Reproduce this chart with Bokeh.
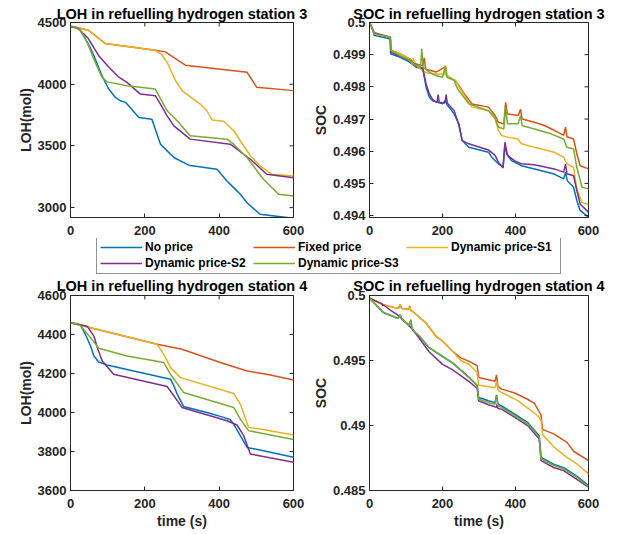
import math
from bokeh.plotting import figure
from bokeh.layouts import column, row
from bokeh.models import (Range1d, Legend, LegendItem, FixedTicker, CustomJSTickFormatter)
from bokeh.embed import file_html
from bokeh.resources import INLINE

# ---------------- data ----------------
series_names = ["No price", "Fixed price", "Dynamic price-S1", "Dynamic price-S2", "Dynamic price-S3"]
colors = ["#0072BD", "#D95319", "#EDB120", "#7E2F8E", "#77AC30"]

x_ticks = [0, 200, 400, 600]
loh3_ticks = [3000, 3500, 4000, 4500]
soc3_ticks = [0.494, 0.495, 0.496, 0.497, 0.498, 0.499, 0.5]
loh4_ticks = [3600, 3800, 4000, 4200, 4400, 4600]
soc4_ticks = [0.485, 0.49, 0.495, 0.5]

# LOH station 3
loh3_blue_t = [0, 12, 25, 40, 54, 66, 84, 102, 121, 134, 148, 184, 219, 242, 260, 278, 318, 394, 421, 439, 457, 475, 510, 600]
loh3_blue = [4467, 4465, 4440, 4370, 4290, 4208, 4073, 3965, 3893, 3866, 3853, 3731, 3717, 3514, 3460, 3406, 3344, 3311, 3216, 3162, 3108, 3040, 2946, 2913]
loh3_orange_t = [0, 14, 48, 71, 93, 228, 255, 309, 475, 501, 600]
loh3_orange = [4467, 4462, 4438, 4384, 4330, 4275, 4262, 4154, 4097, 3975, 3948]
loh3_yellow_t = [0, 14, 48, 71, 93, 228, 246, 264, 282, 300, 349, 367, 381, 412, 439, 484, 510, 542, 600]
loh3_yellow = [4467, 4462, 4438, 4384, 4330, 4275, 4240, 4154, 4032, 3948, 3839, 3785, 3710, 3700, 3623, 3420, 3338, 3270, 3257]
loh3_purple_t = [0, 21, 48, 75, 102, 129, 152, 188, 228, 242, 260, 278, 322, 430, 484, 528, 600]
loh3_purple = [4467, 4451, 4370, 4235, 4141, 4060, 4015, 3920, 3907, 3839, 3744, 3663, 3555, 3514, 3392, 3270, 3243]
loh3_green_t = [0, 12, 30, 48, 66, 84, 98, 152, 228, 260, 287, 322, 421, 439, 475, 519, 560, 600]
loh3_green = [4467, 4465, 4425, 4316, 4181, 4060, 4019, 3988, 3961, 3785, 3704, 3582, 3555, 3514, 3406, 3230, 3108, 3095]

# SOC station 3
soc3_blue_t = [0, 8, 13, 57, 58, 84, 110, 128, 146, 155, 164, 173, 200, 209, 212, 232, 245, 254, 272, 326, 335, 353, 366, 371, 376, 389, 416, 452, 506, 532, 537, 542, 559, 568, 577, 600]
soc3_blue = [0.5, 0.4998, 0.4996, 0.49949, 0.49903, 0.49892, 0.49877, 0.49861, 0.49856, 0.49799, 0.49768, 0.49757, 0.49747, 0.49760, 0.49745, 0.49716, 0.49685, 0.49633, 0.49612, 0.49597, 0.49581, 0.49561, 0.49552, 0.49618, 0.49592, 0.49571, 0.49555, 0.49545, 0.49529, 0.49514, 0.49535, 0.49508, 0.49488, 0.49447, 0.49416, 0.49395]
soc3_orange_t = [0, 8, 13, 57, 59, 84, 110, 128, 146, 150, 154, 182, 208, 211, 218, 236, 245, 263, 281, 326, 344, 353, 368, 373, 378, 407, 414, 418, 452, 479, 506, 532, 537, 541, 559, 568, 577, 600]
soc3_orange = [0.5, 0.4998, 0.49965, 0.49954, 0.49913, 0.49903, 0.49887, 0.49871, 0.49866, 0.4989, 0.49855, 0.49846, 0.49862, 0.49835, 0.4983, 0.49818, 0.49804, 0.49773, 0.49747, 0.49737, 0.49711, 0.4969, 0.49685, 0.49752, 0.49716, 0.49711, 0.4973, 0.497, 0.4969, 0.4968, 0.49665, 0.49649, 0.49675, 0.49645, 0.49638, 0.49592, 0.49555, 0.49545]
soc3_yellow_t = [0, 8, 13, 57, 59, 84, 110, 118, 120, 123, 146, 160, 182, 206, 208, 212, 236, 245, 263, 281, 326, 344, 353, 362, 380, 407, 416, 452, 506, 532, 541, 559, 568, 582, 600]
soc3_yellow = [0.5, 0.4998, 0.49965, 0.49954, 0.49913, 0.49903, 0.49885, 0.4987, 0.4989, 0.4987, 0.4985, 0.49842, 0.4984, 0.4984, 0.49865, 0.49835, 0.4982, 0.498, 0.49768, 0.49737, 0.49726, 0.497, 0.49665, 0.49649, 0.49643, 0.49638, 0.49623, 0.49612, 0.49597, 0.49581, 0.49561, 0.4955, 0.49483, 0.49441, 0.49434]
soc3_purple_t = [0, 8, 13, 57, 58, 84, 110, 128, 146, 155, 164, 173, 185, 188, 191, 207, 210, 213, 232, 245, 254, 272, 326, 344, 353, 366, 371, 378, 398, 416, 452, 506, 532, 537, 541, 559, 568, 577, 600]
soc3_purple = [0.5, 0.4998, 0.49968, 0.49954, 0.49908, 0.49895, 0.49882, 0.49866, 0.49858, 0.49809, 0.49778, 0.4976, 0.49752, 0.49776, 0.49752, 0.4975, 0.49776, 0.4975, 0.49726, 0.4968, 0.49633, 0.49623, 0.49604, 0.49587, 0.49566, 0.49548, 0.49628, 0.49587, 0.4957, 0.49561, 0.49558, 0.49545, 0.49535, 0.4956, 0.4953, 0.49524, 0.49478, 0.49436, 0.4941]
soc3_green_t = [0, 8, 13, 57, 59, 84, 110, 128, 140, 143, 147, 164, 182, 200, 208, 212, 232, 241, 272, 326, 344, 353, 368, 373, 378, 407, 414, 418, 452, 497, 532, 541, 559, 568, 582, 600]
soc3_green = [0.5, 0.4998, 0.49965, 0.49954, 0.49913, 0.49897, 0.49882, 0.49866, 0.49861, 0.49918, 0.49861, 0.49846, 0.49835, 0.4983, 0.49866, 0.4983, 0.4982, 0.49794, 0.49747, 0.49726, 0.49706, 0.49675, 0.49669, 0.49737, 0.49685, 0.49685, 0.49711, 0.4968, 0.49669, 0.49654, 0.49638, 0.49612, 0.49607, 0.4955, 0.49488, 0.49483]

# LOH station 4
loh4_blue_t = [0, 27, 40, 54, 63, 76, 98, 170, 269, 278, 287, 304, 367, 412, 430, 439, 475, 519, 600]
loh4_blue = [4460, 4448, 4401, 4341, 4290, 4259, 4244, 4213, 4171, 4137, 4094, 4031, 4000, 3975, 3963, 3941, 3821, 3804, 3770]
loh4_orange_t = [0, 233, 300, 403, 475, 528, 600]
loh4_orange = [4460, 4350, 4324, 4256, 4213, 4196, 4167]
loh4_yellow_t = [0, 233, 251, 269, 296, 439, 457, 479, 510, 600]
loh4_yellow = [4460, 4350, 4298, 4230, 4179, 4097, 4043, 3924, 3915, 3885]
loh4_purple_t = [0, 45, 63, 72, 85, 116, 260, 278, 300, 421, 448, 466, 484, 600]
loh4_purple = [4460, 4442, 4392, 4333, 4265, 4196, 4133, 4086, 4026, 3958, 3936, 3881, 3787, 3745]
loh4_green_t = [0, 22, 54, 76, 152, 251, 269, 304, 439, 457, 479, 600]
loh4_green = [4460, 4455, 4384, 4329, 4290, 4256, 4196, 4103, 4026, 3966, 3907, 3861]

# SOC station 4
soc4_blue_t = [0, 38, 75, 80, 84, 88, 110, 113, 116, 119, 137, 164, 200, 227, 272, 295, 299, 326, 344, 348, 352, 362, 398, 434, 465, 470, 506, 532, 568, 600]
soc4_blue = [0.4998, 0.49868, 0.49826, 0.49828, 0.4985, 0.49818, 0.49768, 0.4981, 0.49758, 0.4973, 0.49685, 0.49597, 0.4953, 0.49482, 0.49372, 0.4931, 0.49215, 0.4919, 0.49176, 0.49235, 0.49165, 0.4915, 0.49088, 0.49022, 0.4892, 0.48755, 0.487, 0.48675, 0.4861, 0.48537]
soc4_orange_t = [0, 38, 74, 80, 84, 88, 108, 110, 113, 119, 155, 182, 200, 227, 250, 272, 295, 299, 344, 348, 352, 362, 398, 434, 452, 466, 470, 474, 506, 541, 560, 600]
soc4_orange = [0.4998, 0.49929, 0.49903, 0.49905, 0.4993, 0.499, 0.49895, 0.4992, 0.49885, 0.49875, 0.49788, 0.49686, 0.4965, 0.49573, 0.4952, 0.49495, 0.4946, 0.4937, 0.4934, 0.4939, 0.493, 0.4928, 0.4925, 0.492, 0.4917, 0.491, 0.4908, 0.4897, 0.48934, 0.4887, 0.488, 0.4873]
soc4_yellow_t = [0, 38, 74, 80, 84, 88, 108, 110, 113, 119, 155, 182, 200, 227, 250, 272, 295, 299, 344, 348, 352, 362, 407, 461, 470, 474, 506, 541, 568, 600]
soc4_yellow = [0.4998, 0.49929, 0.49903, 0.49905, 0.4993, 0.499, 0.49895, 0.4992, 0.49885, 0.49875, 0.49788, 0.49686, 0.4965, 0.49573, 0.495, 0.49471, 0.49407, 0.4931, 0.4929, 0.4934, 0.4927, 0.49254, 0.4919, 0.49075, 0.4904, 0.4893, 0.48832, 0.48755, 0.48704, 0.48628]
soc4_purple_t = [0, 34, 36, 38, 56, 83, 119, 164, 200, 227, 272, 295, 299, 326, 348, 350, 352, 362, 398, 434, 465, 470, 506, 532, 568, 600]
soc4_purple = [0.4998, 0.49936, 0.4992, 0.49929, 0.4989, 0.49839, 0.49737, 0.49565, 0.4947, 0.4943, 0.4934, 0.49285, 0.4919, 0.4916, 0.4914, 0.4917, 0.4913, 0.49126, 0.49062, 0.48998, 0.48896, 0.4873, 0.48675, 0.48653, 0.48585, 0.48526]
soc4_green_t = [0, 38, 75, 80, 84, 88, 110, 113, 116, 119, 137, 164, 200, 227, 272, 295, 299, 326, 344, 348, 352, 362, 398, 434, 465, 470, 506, 532, 568, 600]
soc4_green = [0.4998, 0.49872, 0.49829, 0.4983, 0.49854, 0.4982, 0.4977, 0.49816, 0.4976, 0.49734, 0.49688, 0.49599, 0.49533, 0.49484, 0.49369, 0.49305, 0.49203, 0.49177, 0.49164, 0.49228, 0.49152, 0.49139, 0.49075, 0.49011, 0.48909, 0.48743, 0.48692, 0.48666, 0.48602, 0.48531]

# ---------------- styling ----------------
FONT = "Liberation Sans"
TXT = "#262626"
LW = 1.5


def style_axis(ax, ticks, fmt=None):
    ax.ticker = FixedTicker(ticks=ticks)
    ax.minor_tick_line_color = None
    ax.major_tick_in = 4
    ax.major_tick_out = 0
    ax.major_tick_line_color = TXT
    ax.axis_line_color = TXT
    ax.major_label_text_font = FONT
    ax.major_label_text_font_style = "bold"
    ax.major_label_text_font_size = "13px"
    ax.major_label_text_color = TXT
    ax.axis_label_text_font = FONT
    ax.axis_label_text_font_style = "bold"
    ax.axis_label_text_font_size = "14px"
    ax.axis_label_text_color = TXT
    if fmt is not None:
        ax.formatter = fmt


soc_fmt = CustomJSTickFormatter(code="return String(Number(tick.toFixed(4)));")


def make_panel(title, ylabel, yr, yticks, series, width, height,
               b_left, b_right, b_top, b_bottom, xlabel=None, soc=False, title_standoff=2):
    p = figure(width=width, height=height, output_backend="svg", toolbar_location=None,
               x_range=Range1d(0, 600), y_range=Range1d(*yr),
               min_border_left=b_left, min_border_right=b_right,
               min_border_top=b_top, min_border_bottom=b_bottom)
    p.xgrid.visible = False
    p.ygrid.visible = False
    p.outline_line_color = TXT
    p.outline_line_alpha = 1
    p.background_fill_color = "white"
    p.border_fill_color = "white"
    for (t, v), c in zip(series, colors):
        p.line(t, v, line_color=c, line_width=LW)
    # inward ticks on the top and right edges (box on), clipped to the frame
    p.scatter(x=x_ticks, y=[yr[1]] * len(x_ticks), marker="dash", angle=math.pi / 2,
              size=8, line_color=TXT, line_width=1)
    p.scatter(x=[600] * len(yticks), y=yticks, marker="dash",
              size=8, line_color=TXT, line_width=1)
    fmt = soc_fmt if soc else None
    style_axis(p.xaxis[0], x_ticks)
    p.xaxis[0].major_label_standoff = 8
    style_axis(p.yaxis[0], yticks, fmt=fmt)
    p.yaxis[0].major_label_standoff = 4
    p.yaxis[0].axis_label = ylabel
    p.yaxis[0].axis_label_standoff = 1
    if xlabel:
        p.xaxis[0].axis_label = xlabel
        p.xaxis[0].axis_label_standoff = 2
    p.title.text = title
    p.title.align = "center"
    p.title.text_font = FONT
    p.title.text_font_style = "bold"
    p.title.text_font_size = "14.5px"
    p.title.text_color = "black"
    p.title.standoff = title_standoff
    p.title.offset = 0
    return p


LW_W, RW_W = 309, 306
ROW1_H, LEG_H, ROW2_H = 238, 36, 258

p1 = make_panel("LOH in refuelling hydrogen station 3", "LOH(mol)", (2920, 4500), loh3_ticks,
                [(loh3_blue_t, loh3_blue), (loh3_orange_t, loh3_orange), (loh3_yellow_t, loh3_yellow),
                 (loh3_purple_t, loh3_purple), (loh3_green_t, loh3_green)],
                LW_W, ROW1_H, 70, 16, 22, 21)
p2 = make_panel("SOC in refuelling hydrogen station 3", "SOC", (0.49394, 0.5), soc3_ticks,
                [(soc3_blue_t, soc3_blue), (soc3_orange_t, soc3_orange), (soc3_yellow_t, soc3_yellow),
                 (soc3_purple_t, soc3_purple), (soc3_green_t, soc3_green)],
                RW_W, ROW1_H, 57, 27, 22, 21, soc=True)
p3 = make_panel("LOH in refuelling hydrogen station 4", "LOH(mol)", (3600, 4600), loh4_ticks,
                [(loh4_blue_t, loh4_blue), (loh4_orange_t, loh4_orange), (loh4_yellow_t, loh4_yellow),
                 (loh4_purple_t, loh4_purple), (loh4_green_t, loh4_green)],
                LW_W, ROW2_H, 70, 16, 20, 42, xlabel="time (s)", title_standoff=3)
p4 = make_panel("SOC in refuelling hydrogen station 4", "SOC", (0.485, 0.5), soc4_ticks,
                [(soc4_blue_t, soc4_blue), (soc4_orange_t, soc4_orange), (soc4_yellow_t, soc4_yellow),
                 (soc4_purple_t, soc4_purple), (soc4_green_t, soc4_green)],
                RW_W, ROW2_H, 57, 27, 20, 42, xlabel="time (s)", soc=True, title_standoff=3)

# legend strip (its lines lie outside its ranges; only the legend samples show)
pl = figure(width=LW_W + RW_W, height=LEG_H, output_backend="svg", toolbar_location=None,
            x_range=Range1d(0, 1), y_range=Range1d(0, 1), min_border=0,
            x_axis_location=None, y_axis_location=None)
pl.xgrid.visible = False
pl.ygrid.visible = False
pl.outline_line_color = None
legend_src = [(loh3_blue_t, loh3_blue), (loh3_orange_t, loh3_orange), (loh3_yellow_t, loh3_yellow),
              (loh3_purple_t, loh3_purple), (loh3_green_t, loh3_green)]
items = []
for name, c, (t, v) in zip(series_names, colors, legend_src):
    r = pl.line(x=t, y=v, line_color=c, line_width=LW)
    items.append(LegendItem(label=name, renderers=[r]))
leg = Legend(items=items, location=(96, 0), orientation="horizontal", ncols=3,
             glyph_width=42, glyph_height=14, label_height=14, label_width=106,
             label_standoff=3, spacing=2, padding=3, margin=0,
             label_text_font=FONT, label_text_font_style="bold", label_text_font_size="12px",
             label_text_color="black", border_line_color=TXT, border_line_width=1,
             background_fill_color="white", background_fill_alpha=1)
pl.add_layout(leg, "center")

layout = column(row(p1, p2), pl, row(p3, p4))

open("out.html", "w").write(file_html(layout, INLINE))
